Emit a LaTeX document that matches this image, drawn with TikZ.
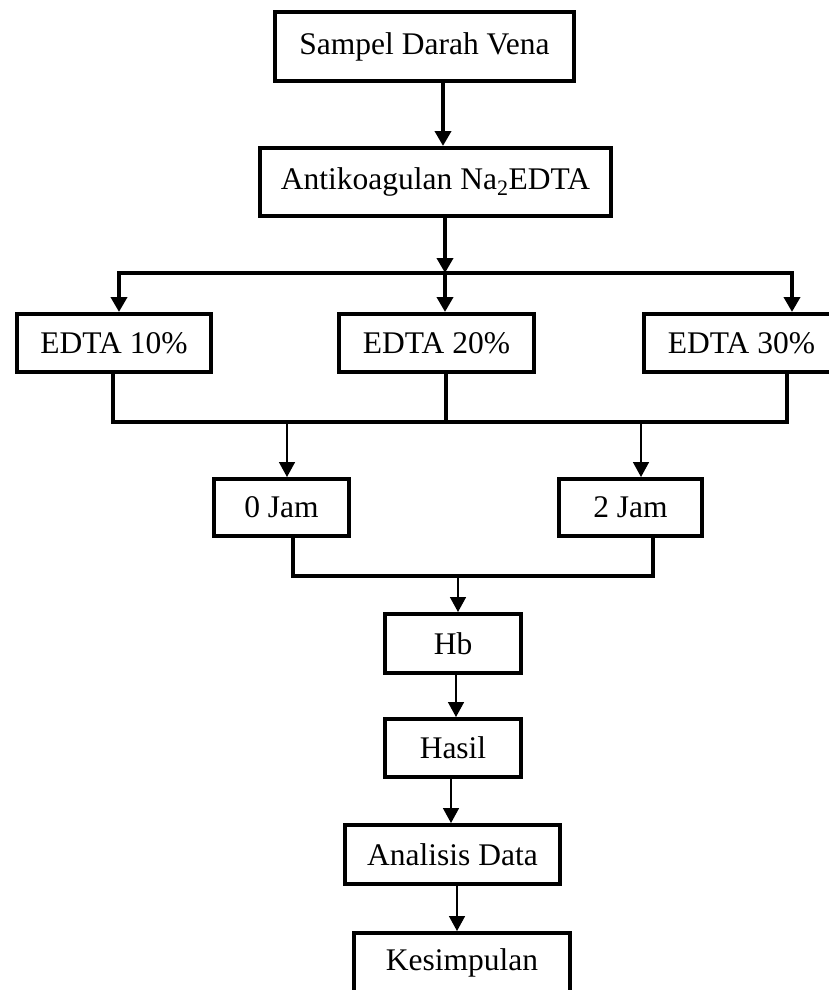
\documentclass[tikz,border=0pt]{standalone}
\usepackage{fontspec}
\setmainfont{Liberation Serif}
\usetikzlibrary{arrows.meta}
\begin{document}
\begin{tikzpicture}[x=1pt,y=-1pt,
  box/.style={draw, line width=4pt, inner sep=0pt, align=center,
    font=\fontsize{31.5}{38}\selectfont},
  heavy/.style={line width=4pt},
  light/.style={line width=1.6pt},
  tipH/.style={-{Triangle[width=16pt,length=15pt]}},
  tipL/.style={-{Triangle[width=16pt,length=15pt]}}
]
\useasboundingbox (0,0) rectangle (829,990);
% boxes
\node[box, minimum width=299pt, minimum height=69pt] (b1) at (424.5,46.5) {Sampel Darah Vena};
\node[box, minimum width=351pt, minimum height=68pt] (b2) at (435.5,182) {Antikoagulan Na\textsubscript{2}EDTA};
\node[box, minimum width=194pt, minimum height=58pt] (e1) at (114,343) {EDTA 10\%};
\node[box, minimum width=195pt, minimum height=58pt] (e2) at (436.5,343) {EDTA 20\%};
\node[box, minimum width=195pt, minimum height=58pt] (e3) at (741.5,343) {EDTA 30\%};
\node[box, minimum width=135pt, minimum height=57pt] (j0) at (281.5,507.5) {0 Jam};
\node[box, minimum width=143pt, minimum height=57pt] (j2) at (630.5,507.5) {2 Jam};
\node[box, minimum width=136pt, minimum height=59pt] (hb) at (453,643.5) {Hb};
\node[box, minimum width=136pt, minimum height=58pt] (hs) at (453,748) {Hasil};
\node[box, minimum width=215pt, minimum height=59pt] (ad) at (452.5,854.5) {Analisis Data};
\node[box, minimum width=216pt, minimum height=59pt] (ks) at (462,962.5) {Kesimpulan};
% helper coordinates
\coordinate (cA) at (443,0);
\coordinate (br) at (445,273);
\coordinate (brL) at (119,273);
\coordinate (brR) at (792,273);
\coordinate (m1L) at (113,422);
\coordinate (m1C) at (446,422);
\coordinate (m1R) at (787,422);
\coordinate (t0) at (287,422);
\coordinate (t2) at (641,422);
\coordinate (m2L) at (293,576);
\coordinate (m2C) at (458,576);
\coordinate (m2R) at (653,576);
\coordinate (x1) at (456,0);
\coordinate (x2) at (451,0);
\coordinate (x3) at (457,0);
% connectors
\draw[heavy, tipH] (b1.south -| cA) -- (b2.north -| cA);
\draw[heavy, tipH] (b2.south -| br) -- (br);
\draw[heavy, line cap=rect] (brL) -- (brR);
\draw[heavy, tipH] (brL) -- (e1.north -| brL);
\draw[heavy, tipH] (br) -- (e2.north -| br);
\draw[heavy, tipH] (brR) -- (e3.north -| brR);
\draw[heavy, line join=miter] (e1.south -| m1L) -- (m1L) -- (m1R) -- (e3.south -| m1R);
\draw[heavy] (e2.south -| m1C) -- (m1C);
\draw[light, tipL] (t0) -- (j0.north -| t0);
\draw[light, tipL] (t2) -- (j2.north -| t2);
\draw[heavy, line join=miter] (j0.south -| m2L) -- (m2L) -- (m2R) -- (j2.south -| m2R);
\draw[light, tipL] (m2C) -- (hb.north -| m2C);
\draw[light, tipL] (hb.south -| x1) -- (hs.north -| x1);
\draw[light, tipL] (hs.south -| x2) -- (ad.north -| x2);
\draw[light, tipL] (ad.south -| x3) -- (ks.north -| x3);
\end{tikzpicture}
\end{document}
